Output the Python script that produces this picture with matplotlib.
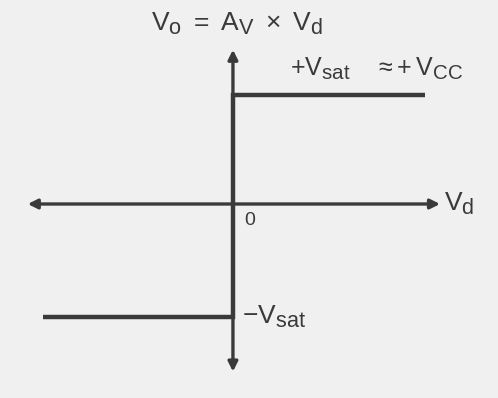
import matplotlib.pyplot as plt
import matplotlib._mathtext as mt

# bigger subscripts, like the printed figure
mt.SHRINK_FACTOR = 0.82

# transfer characteristic (normalised: Vsat = 1)
vd = [-1.0, 0.0, 0.0, 1.01]
vo = [-1.02, -1.02, 0.98, 0.98]

# axis arrow ends
x_tips = [-1.08, 1.09]
y_tips = [1.39, -1.51]

ink = "#3a3a3a"
bg = "#f0f0f0"

plt.rcParams['mathtext.fontset'] = 'custom'
plt.rcParams['mathtext.rm'] = 'Liberation Sans'
plt.rcParams['mathtext.it'] = 'Liberation Sans'
plt.rcParams['font.family'] = ['Liberation Sans', 'DejaVu Sans']

fig = plt.figure(figsize=(4.98, 3.98), dpi=100, facecolor=bg)
ax = fig.add_axes([0, 0, 1, 1])
ax.set_facecolor(bg)
ax.set_xlim(-1.226, 1.395)
ax.set_ylim(-1.748, 1.838)
ax.axis("off")

arrow = dict(arrowstyle="-|>", color=ink, lw=2.4, mutation_scale=14, shrinkA=0, shrinkB=0)
for xt in x_tips:
    ax.annotate("", xy=(xt, 0), xytext=(0, 0), arrowprops=arrow)
for yt in y_tips:
    ax.annotate("", xy=(0, yt), xytext=(0, 0), arrowprops=arrow)

ax.plot(vd, vo, color=ink, lw=3.2, solid_joinstyle="miter", solid_capstyle="butt")

fs = 19
ax.text(0.02, 1.62, r"$\mathrm{V_o\ =\ A_V\ \times\ V_d}$", color=ink, fontsize=fs,
        ha="center", va="center")
ax.text(0.30, 1.22, r"$\mathrm{+V_{sat}}$", color=ink, fontsize=fs - 1,
        ha="left", va="center")
ax.text(0.74, 1.22, r"$\mathrm{\approx\!+V_{CC}}$", color=ink, fontsize=fs - 1,
        ha="left", va="center")
ax.text(1.11, 0.0, r"$\mathrm{V_d}$", color=ink, fontsize=fs,
        ha="left", va="center")
ax.text(0.06, -0.15, "0", color=ink, fontsize=fs - 5, ha="left", va="center")
ax.text(0.05, -1.02, r"$\mathrm{-V_{sat}}$", color=ink, fontsize=fs,
        ha="left", va="center")

fig.savefig("out.png", dpi=100, facecolor=bg)
